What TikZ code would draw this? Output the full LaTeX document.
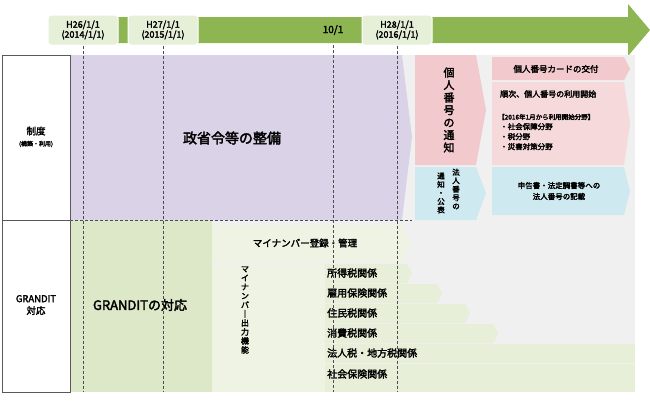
\documentclass[tikz,border=0pt]{standalone}
\usepackage{fontspec}
\setmainfont{Noto Sans CJK JP}[AutoFakeBold=2.5]
\usetikzlibrary{shapes.geometric}
\definecolor{tlgreen}{HTML}{8DB653}
\definecolor{lblgreen}{HTML}{E6EFD8}
\definecolor{purp}{HTML}{DAD3E8}
\definecolor{pinkc}{HTML}{F2C9CC}
\definecolor{bluec}{HTML}{CFE9F0}
\definecolor{grnc}{HTML}{DDE8C8}
\definecolor{grnl}{HTML}{EEF3E3}
\tikzset{
  lbl/.style={fill=lblgreen,draw=white,line width=1pt,rounded corners=3pt,minimum width=70pt,minimum height=30pt,inner sep=0pt,font=\bfseries\fontsize{9}{10}\selectfont,align=center},
  vdash/.style={densely dashed,gray!60!black,line width=0.5pt},
  hdr/.style={draw=gray!70!black,line width=0.8pt,fill=white},
  txt/.style={font=\bfseries\fontsize{8}{10}\selectfont,inner sep=1pt},
  big/.style={font=\bfseries\fontsize{14}{16}\selectfont,inner sep=1pt},
  vt/.style={font=\bfseries\fontsize{8}{9}\selectfont,align=center,inner sep=0pt},
}
\begin{document}
\begin{tikzpicture}[x=1pt,y=-1pt]
\useasboundingbox (0,0) rectangle (650,400);
% timeline
\fill[tlgreen] (60,17) -- (628,17) -- (628,4) -- (650,30) -- (628,56) -- (628,43) -- (60,43) -- cycle;
\node[lbl] (h26) at (83,30) {H26/1/1\\(2014/1/1)};
\node[lbl] (h27) at (163,30) {H27/1/1\\(2015/1/1)};
\node[txt,font=\bfseries\fontsize{10}{10}\selectfont] (oct) at (333,30) {10/1};
\node[lbl] (h28) at (397,30) {H28/1/1\\(2016/1/1)};
% background
\fill[gray!12] (70,55) rectangle (635,392);
% purple
\fill[purp] (70,55) -- (402,55) -- (412,137) -- (402,220) -- (70,220) -- cycle;
\node[big] (seisho) at (232,138) {政省令等の整備};
% pink/blue middle
\fill[pinkc] (415,55) -- (476,55) -- (486,110) -- (476,165) -- (415,165) -- cycle;
\node[vt,font=\bfseries\fontsize{11}{12.5}\selectfont] (kojin) at (449,110) {個\\人\\番\\号\\の\\通\\知};
\fill[bluec] (415,167) -- (476,167) -- (486,193) -- (476,220) -- (415,220) -- cycle;
\node[vt,font=\bfseries\fontsize{7.5}{8.5}\selectfont] (hojin1) at (456,189) {法\\人\\番\\号\\の};
\node[vt,font=\bfseries\fontsize{7.5}{8.5}\selectfont] (hojin2) at (441,193) {通\\知\\・\\公\\表};
% right column
\fill[pinkc] (492,57) -- (624,57) -- (630,69) -- (624,80) -- (492,80) -- cycle;
\node[txt,font=\bfseries\fontsize{8.5}{10}\selectfont] (card) at (556,69) {個人番号カードの交付};
\fill[pinkc!70] (492,82) -- (624,82) -- (630,123) -- (624,165) -- (492,165) -- cycle;
\node[txt,anchor=west] (junji) at (499,94) {順次、個人番号の利用開始};
\node[txt,anchor=west,font=\bfseries\fontsize{6.5}{8}\selectfont] (b2016) at (497,117) {【2016年1月から利用開始分野】};
\node[txt,anchor=north west,align=left,font=\bfseries\fontsize{7.5}{10}\selectfont] (fields) at (499,122) {・社会保障分野\\・税分野\\・災害対策分野};
\fill[bluec] (492,167) -- (624,167) -- (630,191) -- (624,215) -- (492,215) -- cycle;
\node[txt,align=center,font=\bfseries\fontsize{7.5}{11}\selectfont] (shinkoku) at (559,191) {申告書・法定調書等への\\法人番号の記載};
% green
\fill[grnc] (70,220) rectangle (212,392);
\node[big,font=\bfseries\fontsize{13}{14}\selectfont] (gr) at (140,305) {GRANDITの対応};
\fill[grnl] (212,225) -- (403,225) -- (411,244) -- (403,262) -- (212,262) -- cycle;
\node[txt,font=\bfseries\fontsize{9.5}{10}\selectfont] (toroku) at (305,243) {マイナンバー登録・管理};
\fill[grnl] (212,264) rectangle (325,392);
\fill[grnc!70] (325,264) -- (407,264) -- (412,273) -- (407,283) -- (325,283) -- cycle;
\fill[grnc!70] (325,284) -- (437,284) -- (442,293) -- (437,303) -- (325,303) -- cycle;
\fill[grnc!70] (325,304) -- (465,304) -- (470,313) -- (465,323) -- (325,323) -- cycle;
\fill[grnc!70] (325,324) -- (493,324) -- (498,333) -- (493,343) -- (325,343) -- cycle;
\fill[grnc!70] (325,344) rectangle (635,363);
\fill[grnc!70] (325,364) rectangle (635,392);
\node[vt] (shutsu) at (245,310) {マ\\イ\\ナ\\ン\\バ\\｜\\出\\力\\機\\能};
\tikzset{row/.style={txt,anchor=west,font=\bfseries\fontsize{10}{10}\selectfont}}
\node[row] (r1) at (326,273) {所得税関係};
\node[row] (r2) at (326,293) {雇用保険関係};
\node[row] (r3) at (326,313) {住民税関係};
\node[row] (r4) at (326,333) {消費税関係};
\node[row] (r5) at (326,353) {法人税・地方税関係};
\node[row] (r6) at (326,374) {社会保険関係};
% dashed lines
\coordinate (d1) at (83,392); \coordinate (d2) at (163,392);
\coordinate (d3) at (333,392); \coordinate (d4) at (397,392);
\draw[vdash] (h26.south) -- (d1);
\draw[vdash] (h27.south) -- (d2);
\draw[vdash] (oct.south) ++(0,9) -- (d3);
\draw[vdash] (h28.south) -- (d4);
\draw[vdash] (70,220) -- (412,220);
% left headers
\draw[hdr] (2,55) rectangle (70,220);
\draw[hdr] (2,220) rectangle (70,392);
\node[vt,font=\bfseries\fontsize{9.5}{10}\selectfont] (seido) at (36,131) {制度};
\node[vt,font=\bfseries\fontsize{6}{7}\selectfont] (kochiku) at (36,144) {(構築・利用)};
\node[vt,font=\bfseries\fontsize{9.5}{12}\selectfont] (grt) at (36,305) {GRANDIT\\対応};
\end{tikzpicture}
\end{document}
